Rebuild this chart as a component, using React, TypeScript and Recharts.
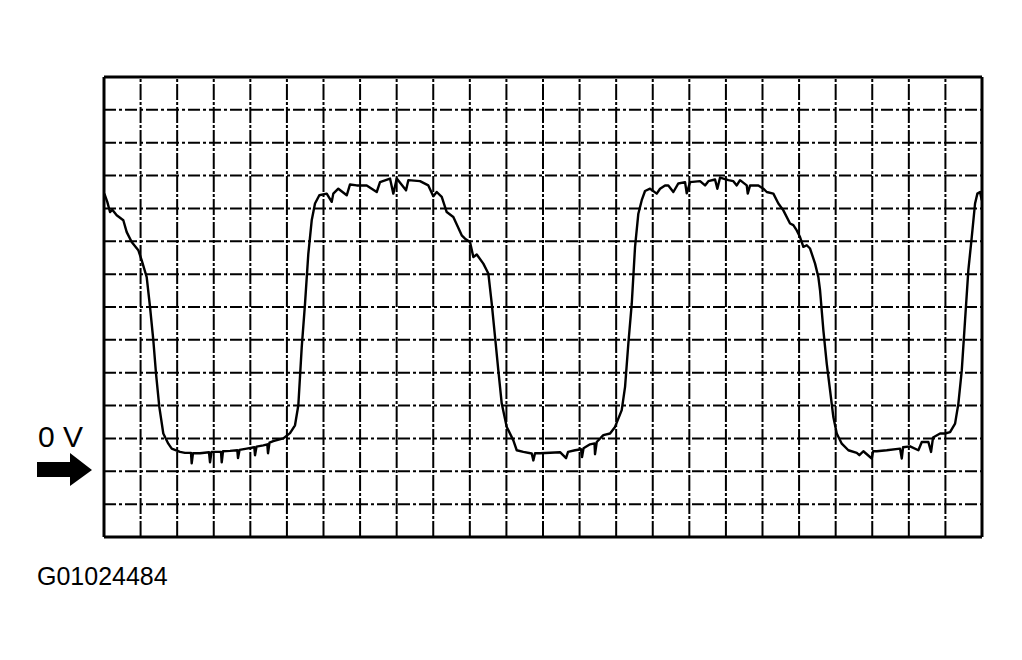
import React from 'react';
import { LineChart, Line, XAxis, YAxis, ReferenceLine } from 'recharts';

// scope trace: time in divisions, voltage in volts (0.1 V / div, 0 V marked)
const timeDiv = [
  0.01, 0.09, 0.164, 0.227, 0.347, 0.528, 0.621, 0.757, 0.938, 1.031,
  1.167, 1.258, 1.348, 1.422, 1.512, 1.621, 1.758, 1.851, 2.078, 2.214,
  2.378, 2.397, 2.433, 2.624, 2.87, 2.898, 2.939, 3.198, 3.218, 3.253,
  3.444, 3.644, 3.663, 3.704, 3.901, 4.109, 4.128, 4.169, 4.355, 4.464,
  4.483, 4.524, 4.628, 4.902, 5.085, 5.221, 5.312, 5.405, 5.495, 5.585,
  5.678, 5.768, 5.886, 6.088, 6.225, 6.268, 6.405, 6.635, 6.725, 6.908,
  7.181, 7.455, 7.545, 7.818, 7.909, 8.002, 8.256, 8.319, 8.638, 8.865,
  9.002, 9.095, 9.232, 9.368, 9.549, 9.778, 9.869, 10.005, 10.096, 10.189,
  10.369, 10.506, 10.599, 10.689, 10.779, 10.872, 11.009, 11.189, 11.282, 11.462,
  11.692, 11.736, 11.782, 11.919, 12.466, 12.63, 12.685, 12.876, 13.04, 13.067,
  13.108, 13.286, 13.409, 13.422, 13.469, 13.649, 13.833, 13.969, 14.152, 14.243,
  14.333, 14.426, 14.516, 14.606, 14.699, 14.789, 14.926, 15.109, 15.2, 15.336,
  15.426, 15.563, 15.7, 15.883, 15.929, 16.02, 16.293, 16.43, 16.52, 16.703,
  16.766, 16.84, 17.067, 17.203, 17.296, 17.386, 17.569, 17.597, 17.66, 17.887,
  18.023, 18.116, 18.297, 18.434, 18.57, 18.753, 18.843, 18.936, 19.026, 19.117,
  19.21, 19.3, 19.437, 19.527, 19.573, 19.664, 19.756, 19.847, 19.937, 20.03,
  20.167, 20.347, 20.577, 20.648, 20.757, 20.987, 21.022, 21.123, 21.397, 21.76,
  21.807, 21.842, 22.034, 22.261, 22.354, 22.534, 22.608, 22.662, 22.854, 22.99,
  23.127, 23.264, 23.354, 23.447, 23.537, 23.627, 23.72, 23.81, 23.874, 23.947,
  23.993,
];

const voltage = [
  0.845, 0.82, 0.789, 0.796, 0.779, 0.764, 0.728, 0.698, 0.673, 0.642,
  0.591, 0.5, 0.399, 0.297, 0.196, 0.115, 0.084, 0.069, 0.059, 0.056,
  0.056, 0.024, 0.055, 0.055, 0.058, 0.027, 0.059, 0.059, 0.027, 0.061,
  0.062, 0.064, 0.04, 0.065, 0.069, 0.073, 0.049, 0.075, 0.079, 0.082,
  0.055, 0.087, 0.092, 0.1, 0.116, 0.14, 0.201, 0.378, 0.51, 0.662,
  0.764, 0.815, 0.84, 0.845, 0.82, 0.845, 0.86, 0.84, 0.873, 0.87,
  0.87, 0.85, 0.88, 0.891, 0.845, 0.891, 0.855, 0.886, 0.883, 0.87,
  0.837, 0.85, 0.835, 0.789, 0.774, 0.718, 0.708, 0.698, 0.652, 0.66,
  0.632, 0.602, 0.51, 0.409, 0.307, 0.206, 0.135, 0.094, 0.064, 0.059,
  0.054, 0.033, 0.055, 0.055, 0.058, 0.04, 0.059, 0.064, 0.067, 0.043,
  0.07, 0.082, 0.085, 0.052, 0.089, 0.11, 0.115, 0.135, 0.186, 0.257,
  0.389, 0.51, 0.683, 0.784, 0.825, 0.853, 0.86, 0.845, 0.86, 0.87,
  0.87, 0.85, 0.876, 0.88, 0.846, 0.88, 0.883, 0.87, 0.883, 0.888,
  0.86, 0.894, 0.886, 0.883, 0.87, 0.886, 0.87, 0.845, 0.87, 0.87,
  0.86, 0.85, 0.845, 0.815, 0.794, 0.754, 0.749, 0.733, 0.713, 0.683,
  0.688, 0.678, 0.632, 0.591, 0.551, 0.429, 0.328, 0.246, 0.165, 0.115,
  0.084, 0.064, 0.056, 0.049, 0.061, 0.039, 0.061, 0.061, 0.064, 0.069,
  0.039, 0.073, 0.076, 0.064, 0.089, 0.089, 0.059, 0.103, 0.115, 0.115,
  0.119, 0.145, 0.206, 0.307, 0.46, 0.612, 0.713, 0.815, 0.845, 0.85,
  0.825,
];

const gridX = [1, 2, 3, 4, 5, 6, 7, 8, 9, 10, 11, 12, 13, 14, 15, 16, 17, 18, 19, 20, 21, 22, 23];
const gridY = [-0.1, 0, 0.1, 0.2, 0.3, 0.4, 0.5, 0.6, 0.7, 0.8, 0.9, 1.0, 1.1];

const zeroLabel = '0 V';
const figureId = 'G01024484';

const data = timeDiv.map((t, i) => ({ t, v: voltage[i] }));

export default function App() {
  return (
    <div style={{ position: 'relative', width: 1006, height: 620, background: '#fff' }}>
      <LineChart
        width={1006}
        height={560}
        data={data}
        margin={{ top: 69, left: 96, right: 32, bottom: 31 }}
      >
        <XAxis type="number" dataKey="t" domain={[0, 24]} hide />
        <YAxis type="number" domain={[-0.2, 1.2]} hide />
        {gridX.map((x) => (
          <ReferenceLine key={`gx-${x}`} x={x} stroke="#000" strokeWidth={2} strokeDasharray="16 2 3 2" />
        ))}
        {gridY.map((y) => (
          <ReferenceLine key={`gy-${y}`} y={y} stroke="#000" strokeWidth={2} strokeDasharray="12 3 3 3" />
        ))}
        {/* frame */}
        <ReferenceLine x={0} stroke="#000" strokeWidth={3} />
        <ReferenceLine x={24} stroke="#000" strokeWidth={3} />
        <ReferenceLine y={-0.2} stroke="#000" strokeWidth={3} />
        <ReferenceLine y={1.2} stroke="#000" strokeWidth={3} />
        <Line
          type="linear"
          dataKey="v"
          stroke="#000"
          strokeWidth={2.4}
          strokeLinejoin="round"
          dot={false}
          activeDot={false}
          isAnimationActive={false}
        />
      </LineChart>
      <svg
        width={1006}
        height={620}
        style={{ position: 'absolute', left: 0, top: 0, pointerEvents: 'none' }}
      >
        <text x={30} y={439} fontFamily="Liberation Sans, Arial, sans-serif" fontSize={30} fill="#000">
          {zeroLabel}
        </text>
        <polygon points="29,454 62,454 62,445 84,462 62,478 62,469 29,469" fill="#000" />
        <text x={29} y={577} fontFamily="Liberation Sans, Arial, sans-serif" fontSize={25} fill="#000">
          {figureId}
        </text>
      </svg>
    </div>
  );
}
